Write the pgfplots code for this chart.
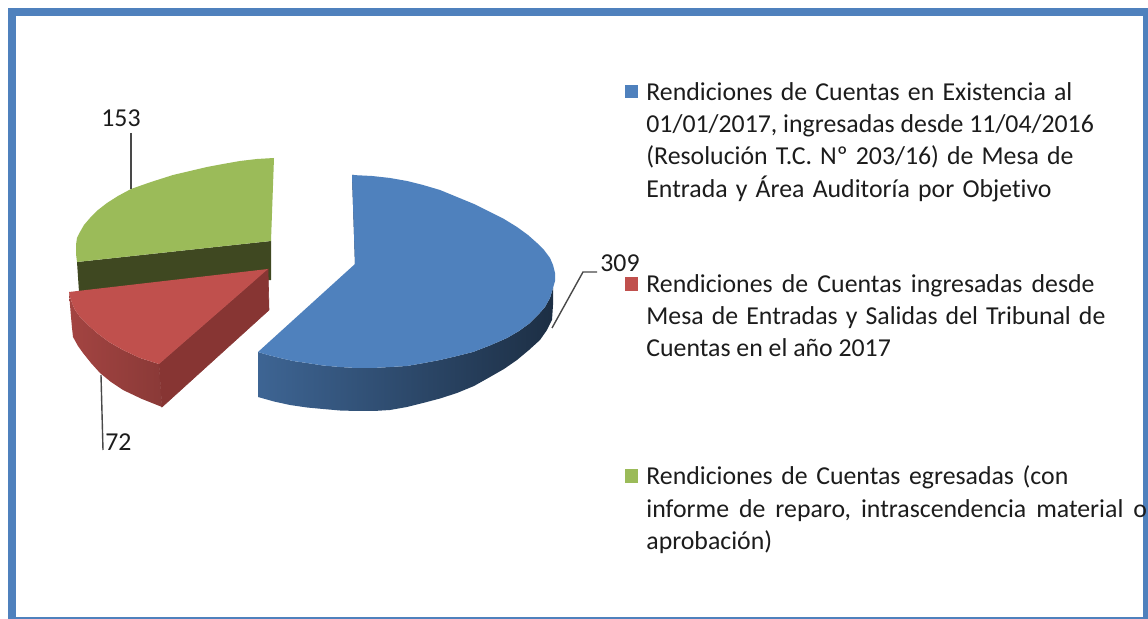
\documentclass[border=0pt]{standalone}
\usepackage{fontspec}
\setmainfont{Carlito}[Ligatures=NoCommon]
\usepackage{pgfplots}
\pgfplotsset{compat=1.18}
\definecolor{pieblue}{HTML}{4F81BD}
\definecolor{piered}{HTML}{C0504D}
\definecolor{piegreen}{HTML}{9BBB59}
\definecolor{darkgreen}{HTML}{3F4821}
\definecolor{redface}{HTML}{873533}
\definecolor{ink}{HTML}{1C1C1C}
\tikzset{lbl/.style={anchor=base west, inner sep=0pt, font=\fontsize{12.9}{14}\selectfont, text=ink}}
\begin{document}
\begin{tikzpicture}
\begin{axis}[
  hide axis, scale only axis, width=574pt, height=309.5pt,
  xmin=0, xmax=1148, ymin=0, ymax=619, y dir=reverse,
  clip=false,
  every axis plot/.append style={draw=none},
]
% frame
\addplot[fill=white] coordinates {(0,0)(1148,0)(1148,619)(0,619)} --cycle;
\addplot[fill=pieblue] coordinates {(8,8)(1148,8)(1148,16)(8,16)} --cycle;
\addplot[fill=pieblue] coordinates {(8,8)(16,8)(16,619)(8,619)} --cycle;
\addplot[fill=pieblue] coordinates {(1143,8)(1148,8)(1148,619)(1143,619)} --cycle;
\addplot[fill=pieblue] coordinates {(8,617)(1148,617)(1148,619)(8,619)} --cycle;
% green slice
\addplot[fill=darkgreen] coordinates {(77,262)(271,241)(271,280)(79,292)} --cycle;
\addplot[fill=piegreen] coordinates {(274,158)(257,159)(240,161)(223,164)(207,167)(190,171)(173,175)(151,182)(131,189)(118,196)(107,203)(98,210)(90,218)(84,225)(80,232)(77,238)(76,245)(76,254)(77,262)(271,241)} --cycle;
% red slice
\addplot[left color=piered!85!black, right color=piered!72!black] coordinates {(69,292)(70,305)(71,317)(72,328)(73,337)(78,346)(83,353)(91,363)(100,373)(111,382)(123,390)(142,399)(162,407)(159,364)(140,358)(123,350)(109,342)(97,333)(88,325)(80,317)(75,310)(72,303)(70,297)} --cycle;
\addplot[fill=redface, draw=redface, line width=0.3pt] coordinates {(159,364)(268,269)(269,310)(162,407)} --cycle;
\addplot[fill=piered] coordinates {(69,292)(268,269)(159,364)(140,358)(123,350)(109,342)(97,333)(88,325)(80,317)(75,310)(72,303)(70,297)} --cycle;
% blue slice
\addplot[left color=pieblue!78!black, middle color=pieblue!40!black, right color=pieblue!36!black] coordinates {(258,352)(258,397)(274,401.5)(290,405)(307,407.5)(323,409)(340,410.5)(357,411)(374,411)(390,410)(407,407)(423,403)(440,398.5)(457,393)(474,386)(490,377)(504,369)(517,360)(529,350)(540,340)(547,330)(552,320)(553,305)(553,288)(550,298)(545,307)(538,315)(530,323)(519,331)(507,338)(491,345)(473,352)(457,356)(440,360)(424,363)(407,366)(390,367)(373,368)(356,368)(340,367)(323,365.5)(307,363)(293,361)(280,358)(268,355)} --cycle;
\addplot[fill=pieblue!40!black] coordinates {(352,175)(355,264)(357,264)(354,175)} --cycle;
\addplot[fill=pieblue] coordinates {(352,175)(372,176)(390,178)(407,181)(423,185)(440,190)(457,197)(474,204)(490,212)(504,219)(517,227)(528,235)(537,243)(544,250)(550,258)(553,265)(555,273)(555,281)(553,288)(550,298)(545,307)(538,315)(530,323)(519,331)(507,338)(491,345)(473,352)(457,356)(440,360)(424,363)(407,366)(390,367)(373,368)(356,368)(340,367)(323,365.5)(307,363)(293,361)(280,358)(268,355)(258,352)(355,264)} --cycle;
% leader lines
\addplot[draw=ink!80, line width=0.7pt] coordinates {(131,133)(131,189)};
\addplot[draw=ink!80, line width=0.7pt] coordinates {(101,375)(103,450)};
\addplot[draw=ink!80, line width=0.7pt] coordinates {(597,272)(583,272)(552,328)};
% data labels
\node[lbl] at (axis cs:101,127) {153};
\node[lbl] at (axis cs:105,451) {72};
\node[lbl] at (axis cs:600,272) {309};
% legend
\addplot[fill=pieblue] coordinates {(625,85)(638,85)(638,98)(625,98)} --cycle;
\addplot[fill=piered] coordinates {(625,277)(638,277)(638,291)(625,291)} --cycle;
\addplot[fill=piegreen] coordinates {(625,469)(638,469)(638,483)(625,483)} --cycle;
\node[lbl] at (axis cs:646,101) {\spaceskip=4.1pt Rendiciones de Cuentas en Existencia al};
\node[lbl] at (axis cs:646,133) {01/01/2017, ingresadas desde 11/04/2016};
\node[lbl] at (axis cs:646,165) {\spaceskip=4.05pt (Resolución T.C. Nº 203/16) de Mesa de};
\node[lbl] at (axis cs:646,198) {\spaceskip=4.1pt Entrada y Área Auditoría por Objetivo};
\node[lbl] at (axis cs:646,293) {\spaceskip=4.6pt Rendiciones de Cuentas ingresadas desde};
\node[lbl] at (axis cs:646,325) {\spaceskip=4.05pt Mesa de Entradas y Salidas del Tribunal de};
\node[lbl] at (axis cs:646,357) {Cuentas en el año 2017};
\node[lbl] at (axis cs:646,485) {\spaceskip=4.3pt Rendiciones de Cuentas egresadas (con};
\node[lbl] at (axis cs:646,518) {\spaceskip=5pt informe de reparo, intrascendencia material o};
\node[lbl] at (axis cs:646,550) {aprobación)};
\end{axis}
\end{tikzpicture}
\end{document}
